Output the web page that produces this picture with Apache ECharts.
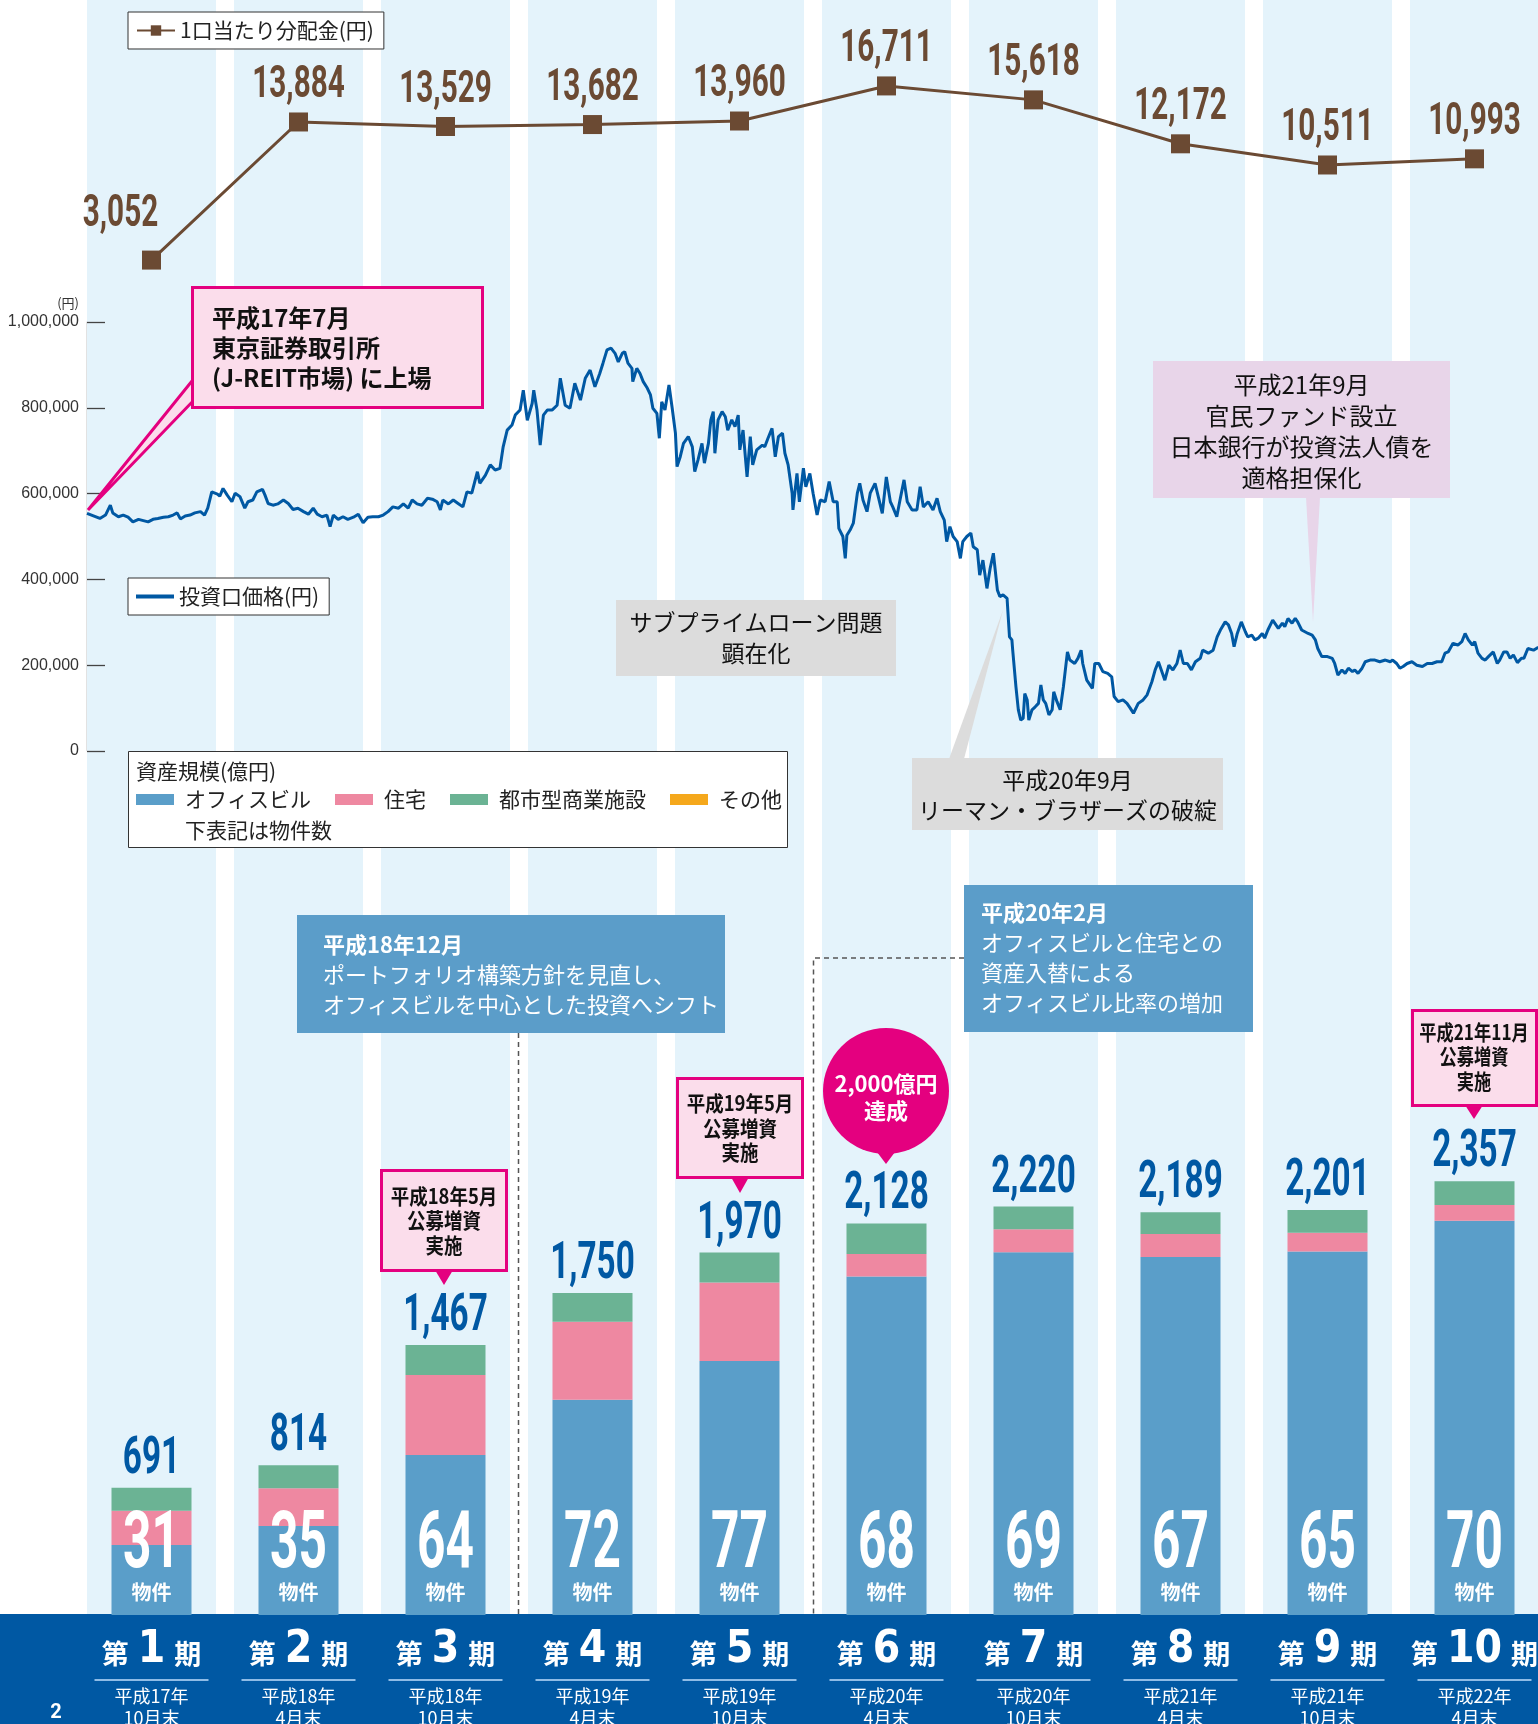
<!DOCTYPE html>
<html><head><meta charset="utf-8">
<script src="https://cdn.jsdelivr.net/npm/echarts@6/dist/echarts.min.js"></script>
<style>html,body{margin:0;padding:0;background:#fff}#c{width:1538px;height:1724px}</style>
</head><body><div id="c"></div>
<script>
// ---- data ----
const periodNo = [1,2,3,4,5,6,7,8,9,10];
const periodYear = ['平成17年','平成18年','平成18年','平成19年','平成19年','平成20年','平成20年','平成21年','平成21年','平成22年'];
const periodMonth = ['10月末','4月末','10月末','4月末','10月末','4月末','10月末','4月末','10月末','4月末'];
const distribution = [3052,13884,13529,13682,13960,16711,15618,12172,10511,10993];
const office = [381,484,870,1170,1380,1840,1972,1946,1976,2142];
const residential = [185,205,435,424,427,122,124,125,101,86];
const retail = [125,125,162,156,163,166,124,118,124,129];
const other = [0,0,0,0,0,0,0,0,0,0];
const assetTotal = [691,814,1467,1750,1970,2128,2220,2189,2201,2357];
const propertyCount = [31,35,64,72,77,68,69,67,65,70];
// unit price: days since 2005-07-31, price in thousand yen
const priceDay = [11,19,27,34,40,43,50,56,62,68,75,81,87,93,99,106,112,118,123,127,133,139,145,152,157,161,166,173,176,180,185,191,195,201,207,211,217,222,229,232,236,242,248,255,261,267,273,280,286,292,297,303,309,313,317,323,329,335,342,348,354,360,366,373,379,385,391,398,404,410,415,421,427,434,440,446,450,453,460,466,472,478,483,489,496,499,506,512,518,524,528,533,539,543,549,553,558,564,566,570,574,578,583,589,595,599,605,611,617,624,630,636,642,
648,652,657,662,667,671,676,679,683,688,689,694,698,702,707,711,714,719,722,725,729,734,738,742,744,748,752,758,763,766,770,775,778,783,786,789,791,795,800,804,807,812,816,820,822,826,831,835,838,843,850,853,857,862,866,870,875,878,882,887,888,893,896,901,904,909,913,918,922,928,933,938,943,945,950,953,955,959,963,968,971,975,980,984,990,994,999,1004,1009,1012,1017,1021,1026,1030,1036,1042,1046,1050,1056,1062,1067,1071,1076,1079,1083,1087,1092,1096,1099,1104,1109,1112,1117,1120,1124,1129,1133,1137,1142,
1145,1149,1154,1157,1160,1161,1165,1168,1171,1174,1176,1179,1181,1185,1189,1193,1196,1199,1202,1206,1210,1212,1216,1220,1224,1229,1232,1238,1242,1246,1248,1253,1260,1263,1268,1273,1279,1284,1287,1292,1298,1303,1307,1311,1317,1323,1328,1334,1338,1342,1347,1350,1355,1360,1365,1369,1373,1378,1383,1388,1394,1397,1404,1410,1415,1419,1425,1429,1433,1436,1440,1445,1450,1453,1458,1462,1466,1471,1474,1478,1484,1491,1496,1499,1503,1508,1512,1515,1520,1524,1528,1533,1537,1540,1545,1552,1558,1561,1565,1570,1574,1578,1583,1586,1590,1595,1599,1605,1611,1617,1624,1630,1633,1638,1642,1646,1651,1657,1663,1670,1676,1682,1688,1694,1698,1702,1708,1714,1719,1723,1727,1732,1735,1739,1744,1748,1752,1758,1763,1766,1771,1775,1779,1783,1788,1793,1796,1801,1808,1814];
const priceK = [554,548,542,550,573,555,546,550,545,534,540,537,534,540,542,545,546,550,555,541,548,550,555,558,550,566,604,599,594,612,597,581,601,593,566,581,585,604,610,597,577,573,576,585,577,563,566,558,552,566,552,546,550,523,550,540,546,540,545,552,532,545,546,546,550,558,569,566,576,566,585,576,573,589,587,581,562,585,576,585,577,569,604,601,651,624,643,667,655,659,709,748,760,783,795,841,771,810,841,795,713,783,795,795,806,869,806,799,857,818,869,888,849,
880,904,935,939,927,907,927,931,904,892,861,892,880,861,846,830,799,787,729,814,795,853,799,741,663,686,717,733,709,651,678,717,671,717,772,791,694,772,791,779,748,772,756,783,702,748,639,733,667,702,713,709,729,752,686,733,741,694,667,601,562,647,581,659,616,647,601,550,585,581,628,581,581,519,500,449,503,515,531,601,624,585,558,601,624,593,554,639,581,569,546,585,632,581,562,562,616,569,581,562,589,558,538,488,523,500,488,449,488,500,508,476,469,410,445,379,426,461,375,
360,364,356,266,259,235,150,96,72,76,134,119,72,96,103,111,154,119,111,84,96,138,115,96,150,231,212,204,216,235,204,165,146,204,204,185,181,173,127,115,119,111,100,88,111,119,131,162,189,208,181,165,200,189,204,235,204,204,189,208,216,235,228,235,266,282,301,294,274,243,274,301,278,266,270,259,263,274,263,282,305,286,298,290,309,298,309,301,282,278,274,270,259,239,220,220,216,204,177,189,181,193,185,189,181,193,208,212,212,208,212,208,212,204,193,197,204,208,200,197,204,204,208,208,228,231,251,247,255,274,259,247,255,228,216,212,220,231,204,212,231,231,216,224,206,216,216,239,235,242];

// ---- styles ----
const cats = periodNo.map(n => '第' + n + '期');
const JP = '"Noto Sans CJK JP", sans-serif';
const brown = '#6B4A33', navy = '#0058A3', band = '#E4F3FB';
const cOffice = '#5A9EC9', cRes = '#EE88A1', cRetail = '#6BB394', cOther = '#F5A81C';
const M = '#E4007F', PK = '#FBDDEB';
const fmt = v => Number(v).toLocaleString('en-US');

function txt(x, y, text, font, fill, align, extra) {
  return Object.assign({type:'text', z:20, x:x, y:y, silent:true,
    style:{text:text, font:font, fill:fill, align:align||'center', textAlign:align||'center',
      verticalAlign:'middle', textVerticalAlign:'middle'}}, extra || {});
}
function mtxt(x, y, text, font, fill, lh, align, sx) {
  return {type:'text', z:20, x:x, y:y, silent:true, scaleX:sx || 1,
    style:{text:text, font:font, fill:fill, lineHeight:lh, align:align||'center', textAlign:align||'center',
      verticalAlign:'middle', textVerticalAlign:'middle'}};
}

const chart = echarts.init(document.getElementById('c'));
const option = {
  animation:false,
  backgroundColor:'#fff',
  textStyle:{fontFamily:JP},
  grid:[
    {left:78, width:1470, top:0, height:1614, outerBoundsMode:'none'},
    {left:78, width:1470, top:44, height:255, outerBoundsMode:'none'},
    {left:87, width:1461, top:322, height:429, outerBoundsMode:'none'},
    {left:78, width:1470, top:1063, height:552, outerBoundsMode:'none'}
  ],
  xAxis:[
    {gridIndex:0, type:'category', data:cats, show:false},
    {gridIndex:1, type:'category', data:cats, show:false},
    {gridIndex:2, type:'value', min:11, max:1826, show:false},
    {gridIndex:3, type:'category', data:cats, z:10,
      axisLine:{show:false}, axisTick:{show:false},
      axisLabel:{interval:0, margin:18, color:'#fff',
        formatter:(v, i) => '{a|第}{n|' + periodNo[i] + '}{a|期}\n{u| }\n{s|' + periodYear[i] + '}\n{s|' + periodMonth[i] + '}',
        rich:{
          a:{fontSize:27, fontWeight:'bold', color:'#fff', lineHeight:42, fontFamily:JP},
          n:{fontSize:44, fontWeight:'bold', color:'#fff', lineHeight:42, padding:[0,9,6,9], fontFamily:'"Liberation Sans Narrow", "DejaVu Sans Condensed", Roboto'},
          u:{width:114, height:2, lineHeight:10, backgroundColor:'#8FBCE6', fontSize:2},
          s:{fontSize:18, color:'#fff', lineHeight:22, fontFamily:JP}
        }}}
  ],
  yAxis:[
    {gridIndex:0, type:'value', min:0, max:1, show:false},
    {gridIndex:1, type:'value', min:0, max:20000, show:false},
    {gridIndex:2, type:'value', min:0, max:1000000, interval:200000,
      name:'(円)', nameLocation:'end', nameGap:12,
      nameTextStyle:{fontSize:13, color:'#333', align:'right', padding:[0,8,0,0]},
      axisLine:{show:true, lineStyle:{color:'#444', width:1.3}},
      axisTick:{show:true, inside:true, length:18, lineStyle:{color:'#444', width:1.3}},
      splitLine:{show:false},
      axisLabel:{fontSize:16, color:'#333', margin:8, fontFamily:'"Liberation Sans", Arial', formatter:fmt}},
    {gridIndex:3, type:'value', min:0, max:3000, show:false}
  ],
  legend:[
    {data:['1口当たり分配金(円)'], left:128, top:12, backgroundColor:'#fff', borderColor:'#333', borderWidth:1,
      padding:[8,10,8,8], itemWidth:38, itemHeight:13, selectedMode:false,
      textStyle:{fontSize:21, color:'#222', fontFamily:JP}, z:12},
    {data:['投資口価格(円)'], left:128, top:578, backgroundColor:'#fff', borderColor:'#333', borderWidth:1,
      padding:[8,10,8,8], itemWidth:38, itemHeight:4, icon:'rect', selectedMode:false,
      textStyle:{fontSize:21, color:'#222', fontFamily:JP, lineHeight:21}, z:12},
    {data:['オフィスビル','住宅','都市型商業施設','その他'], left:136, top:789, padding:0, itemWidth:38, itemHeight:11,
      itemGap:24, icon:'rect', selectedMode:false,
      textStyle:{fontSize:21, color:'#222', fontFamily:JP, padding:[0,0,0,6]}, z:12}
  ],
  series:[
    {type:'bar', xAxisIndex:0, yAxisIndex:0, data:cats.map(() => 1), barWidth:129,
      itemStyle:{color:band}, silent:true, z:0},
    {type:'line', name:'1口当たり分配金(円)', xAxisIndex:1, yAxisIndex:1, data:distribution,
      symbol:'rect', symbolSize:19, lineStyle:{color:brown, width:3}, itemStyle:{color:brown}, z:5},
    {type:'custom', xAxisIndex:1, yAxisIndex:1, z:6, silent:true,
      data:distribution.map((v, i) => [i, v]),
      renderItem:(p, api) => {
        const i = api.value(0), v = api.value(1);
        const pt = api.coord([i, v]);
        const dx = i === 0 ? -31 : 0, dy = i === 0 ? -45 : -36;
        return {type:'text', x:pt[0] + dx, y:pt[1] + dy, scaleX:0.66,
          style:{text:fmt(v), font:'bold 45px Roboto', fill:brown, align:'center', textAlign:'center',
            verticalAlign:'middle', textVerticalAlign:'middle'}};
      }},
    {type:'line', name:'投資口価格(円)', xAxisIndex:2, yAxisIndex:2,
      data:priceDay.map((d, i) => [d, priceK[i] * 1000]),
      symbol:'none', showSymbol:false, lineStyle:{color:navy, width:3}, itemStyle:{color:navy}, z:5},
    {type:'bar', name:'オフィスビル', stack:'a', xAxisIndex:3, yAxisIndex:3, data:office, barWidth:80, itemStyle:{color:cOffice}, z:3},
    {type:'bar', name:'住宅', stack:'a', xAxisIndex:3, yAxisIndex:3, data:residential, barWidth:80, itemStyle:{color:cRes}, z:3},
    {type:'bar', name:'都市型商業施設', stack:'a', xAxisIndex:3, yAxisIndex:3, data:retail, barWidth:80, itemStyle:{color:cRetail}, z:3},
    {type:'bar', name:'その他', stack:'a', xAxisIndex:3, yAxisIndex:3, data:other, barWidth:80, itemStyle:{color:cOther}, z:3},
    {type:'custom', xAxisIndex:3, yAxisIndex:3, z:6, silent:true,
      data:assetTotal.map((v, i) => [i, v]),
      renderItem:(p, api) => {
        const pt = api.coord([api.value(0), api.value(1)]);
        return {type:'text', x:pt[0], y:pt[1] - 28, scaleX:0.64,
          style:{text:fmt(api.value(1)), font:'bold 52px Roboto', fill:navy, align:'center', textAlign:'center',
            verticalAlign:'middle', textVerticalAlign:'middle'}};
      }},
    {type:'custom', xAxisIndex:3, yAxisIndex:3, z:7, silent:true,
      data:propertyCount.map((v, i) => [i, v]),
      renderItem:(p, api) => {
        const pt = api.coord([api.value(0), 0]);
        return {type:'group', children:[
          {type:'text', x:pt[0], y:pt[1] - 68, scaleX:0.62,
            style:{text:String(api.value(1)), font:'bold 80px Roboto', fill:'#fff', align:'center', textAlign:'center',
              verticalAlign:'middle', textVerticalAlign:'middle'}},
          {type:'text', x:pt[0], y:pt[1] - 23,
            style:{text:'物件', font:'bold 20px ' + JP, fill:'#fff', align:'center', textAlign:'center',
              verticalAlign:'middle', textVerticalAlign:'middle'}}
        ]};
      }}
  ],
  graphic:[
    // footer
    {type:'rect', z:1, silent:true, shape:{x:0, y:1614, width:1538, height:110}, style:{fill:navy}},
    txt(56, 1713, '2', 'bold 20px Roboto', '#fff'),
    // asset legend box
    {type:'rect', z:3, silent:true, shape:{x:128.5, y:751.5, width:659, height:96}, style:{fill:'#fff', stroke:'#333', lineWidth:1}},
    txt(136, 771, '資産規模(億円)', '21px ' + JP, '#222', 'left'),
    txt(185, 830, '下表記は物件数', '21px ' + JP, '#222', 'left'),
    // listing callout
    {type:'polygon', z:10, silent:true, shape:{points:[[88,510],[196,376],[196,398]]}, style:{fill:PK, stroke:M, lineWidth:3}},
    {type:'rect', z:11, silent:true, shape:{x:192.5, y:287.5, width:290, height:120}, style:{fill:PK, stroke:M, lineWidth:3}},
    mtxt(212, 348, '平成17年7月\n東京証券取引所\n(J-REIT市場) に上場', 'bold 24px ' + JP, '#111', 30, 'left'),
    // subprime
    {type:'rect', z:10, silent:true, shape:{x:616, y:600, width:280, height:76}, style:{fill:'#DCDCDC'}},
    mtxt(756, 638, 'サブプライムローン問題\n顕在化', '23px ' + JP, '#111', 31),
    // lehman
    {type:'polygon', z:10, silent:true, shape:{points:[[949,759],[964,759],[1003,610]]}, style:{fill:'#DCDCDC'}},
    {type:'rect', z:10, silent:true, shape:{x:912, y:758, width:311, height:72}, style:{fill:'#DCDCDC'}},
    mtxt(1067.5, 795, '平成20年9月\nリーマン・ブラザーズの破綻', '23px ' + JP, '#111', 30),
    // public-private fund
    {type:'polygon', z:10, silent:true, shape:{points:[[1306,497],[1320,497],[1313,622]]}, style:{fill:'#E8D5E9'}},
    {type:'rect', z:10, silent:true, shape:{x:1153, y:361, width:297, height:137}, style:{fill:'#E8D5E9'}},
    mtxt(1301.5, 431, '平成21年9月\n官民ファンド設立\n日本銀行が投資法人債を\n適格担保化', '24px ' + JP, '#111', 31),
    // blue notes
    {type:'rect', z:10, silent:true, shape:{x:297, y:915, width:428, height:118}, style:{fill:'#5B9DC9'}},
    txt(323, 945, '平成18年12月', 'bold 22px ' + JP, '#fff', 'left'),
    mtxt(323, 990, 'ポートフォリオ構築方針を見直し、\nオフィスビルを中心とした投資へシフト', '22px ' + JP, '#fff', 30, 'left'),
    {type:'line', z:10, silent:true, shape:{x1:518.5, y1:1033, x2:518.5, y2:1614}, style:{stroke:'#555', lineWidth:1.5, lineDash:[5,4]}},
    {type:'polyline', z:10, silent:true, shape:{points:[[964,958],[813.5,958],[813.5,1614]]}, style:{stroke:'#555', lineWidth:1.5, lineDash:[5,4], fill:null}},
    {type:'rect', z:10, silent:true, shape:{x:964, y:885, width:289, height:147}, style:{fill:'#5B9DC9'}},
    txt(981, 913, '平成20年2月', 'bold 22px ' + JP, '#fff', 'left'),
    mtxt(981, 973, 'オフィスビルと住宅との\n資産入替による\nオフィスビル比率の増加', '22px ' + JP, '#fff', 30, 'left'),
    // offering callouts
    {type:'polygon', z:10, silent:true, shape:{points:[[435,1270],[453,1270],[444,1285]]}, style:{fill:M}},
    {type:'rect', z:11, silent:true, shape:{x:381.5, y:1170.5, width:125, height:100}, style:{fill:PK, stroke:M, lineWidth:3}},
    mtxt(444, 1220.5, '平成18年5月\n公募増資\n実施', 'bold 21px ' + JP, '#111', 24.5, 'center', 0.88),
    {type:'polygon', z:10, silent:true, shape:{points:[[731,1177],[749,1177],[740,1193]]}, style:{fill:M}},
    {type:'rect', z:11, silent:true, shape:{x:677.5, y:1078.5, width:125, height:99}, style:{fill:PK, stroke:M, lineWidth:3}},
    mtxt(740, 1128, '平成19年5月\n公募増資\n実施', 'bold 21px ' + JP, '#111', 24.5, 'center', 0.88),
    {type:'polygon', z:10, silent:true, shape:{points:[[1465,1105],[1483,1105],[1474,1119]]}, style:{fill:M}},
    {type:'rect', z:11, silent:true, shape:{x:1412.5, y:1010.5, width:124, height:95}, style:{fill:PK, stroke:M, lineWidth:3}},
    mtxt(1474, 1056.5, '平成21年11月\n公募増資\n実施', 'bold 21px ' + JP, '#111', 24.5, 'center', 0.82),
    // 2,000 circle
    {type:'polygon', z:10, silent:true, shape:{points:[[874,1148],[898,1148],[886,1164]]}, style:{fill:M}},
    {type:'circle', z:10, silent:true, shape:{cx:886, cy:1091, r:63}, style:{fill:M}},
    mtxt(886, 1097, '2,000億円\n達成', 'bold 22px ' + JP, '#fff', 27)
  ]
};
chart.setOption(option);
</script>
</body></html>
